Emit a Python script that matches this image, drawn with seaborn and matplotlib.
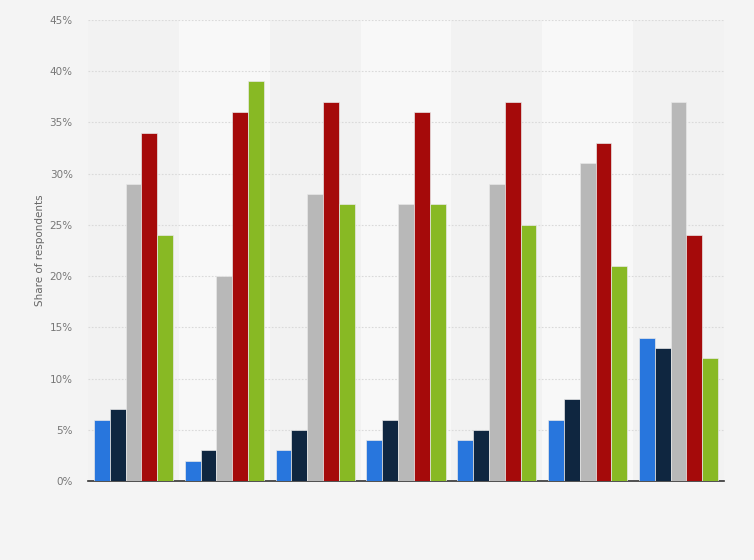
import matplotlib
matplotlib.use("Agg")
import matplotlib.pyplot as plt
import seaborn as sns
import pandas as pd
from matplotlib.ticker import FuncFormatter, MultipleLocator

groups = ["Group 1", "Group 2", "Group 3", "Group 4", "Group 5", "Group 6", "Group 7"]
series_names = ["Series 1", "Series 2", "Series 3", "Series 4", "Series 5"]
series_1 = [6, 2, 3, 4, 4, 6, 14]
series_2 = [7, 3, 5, 6, 5, 8, 13]
series_3 = [29, 20, 28, 27, 29, 31, 37]
series_4 = [34, 36, 37, 36, 37, 33, 24]
series_5 = [24, 39, 27, 27, 25, 21, 12]
colors = ["#2876dd", "#0f2640", "#b8b8b8", "#a50a0a", "#88b924"]

rows = []
for name, vals in zip(series_names, [series_1, series_2, series_3, series_4, series_5]):
    for g, v in zip(groups, vals):
        rows.append({"group": g, "series": name, "value": v})
df = pd.DataFrame(rows)

sns.set_theme(style="white")
plt.rcParams['font.family'] = ['DejaVu Sans']

fig = plt.figure(figsize=(7.54, 5.60), dpi=100)
fig.patch.set_facecolor("#f4f4f4")
ax = fig.add_axes([88/754, 1-481/560, (724-88)/754, (481-20)/560])
ax.set_facecolor("#f2f2f2")

# alternating bands
for i in range(len(groups)):
    if i % 2 == 1:
        ax.axvspan(i-0.5, i+0.5, color="#f8f8f8", zorder=0, lw=0)

sns.barplot(data=df, x="group", y="value", hue="series", palette=colors,
            saturation=1, width=0.87, gap=0.0, edgecolor="#e8e8e8", linewidth=0.5,
            legend=False, ax=ax, zorder=3)

ax.set_xlim(-0.5, len(groups)-0.5)
ax.set_ylim(0, 45)
ax.yaxis.set_major_locator(MultipleLocator(5))
ax.yaxis.set_major_formatter(FuncFormatter(lambda v, p: f"{int(v)}%"))
ax.grid(axis="y", color="#dadada", linestyle=(0, (1.5, 1.5)), linewidth=0.8, zorder=1)
ax.set_axisbelow(True)
ax.set_xticks([])
ax.set_xlabel("")
ax.set_ylabel("Share of respondents", color="#666666", fontsize=7.5, labelpad=3)
ax.tick_params(axis="y", colors="#777777", labelsize=7.5, length=0, pad=11)
for s in ["top", "right", "left"]:
    ax.spines[s].set_visible(False)
ax.spines["bottom"].set_color("#333333")
ax.spines["bottom"].set_linewidth(1.2)

fig.savefig("out.png", dpi=100, facecolor=fig.get_facecolor())
